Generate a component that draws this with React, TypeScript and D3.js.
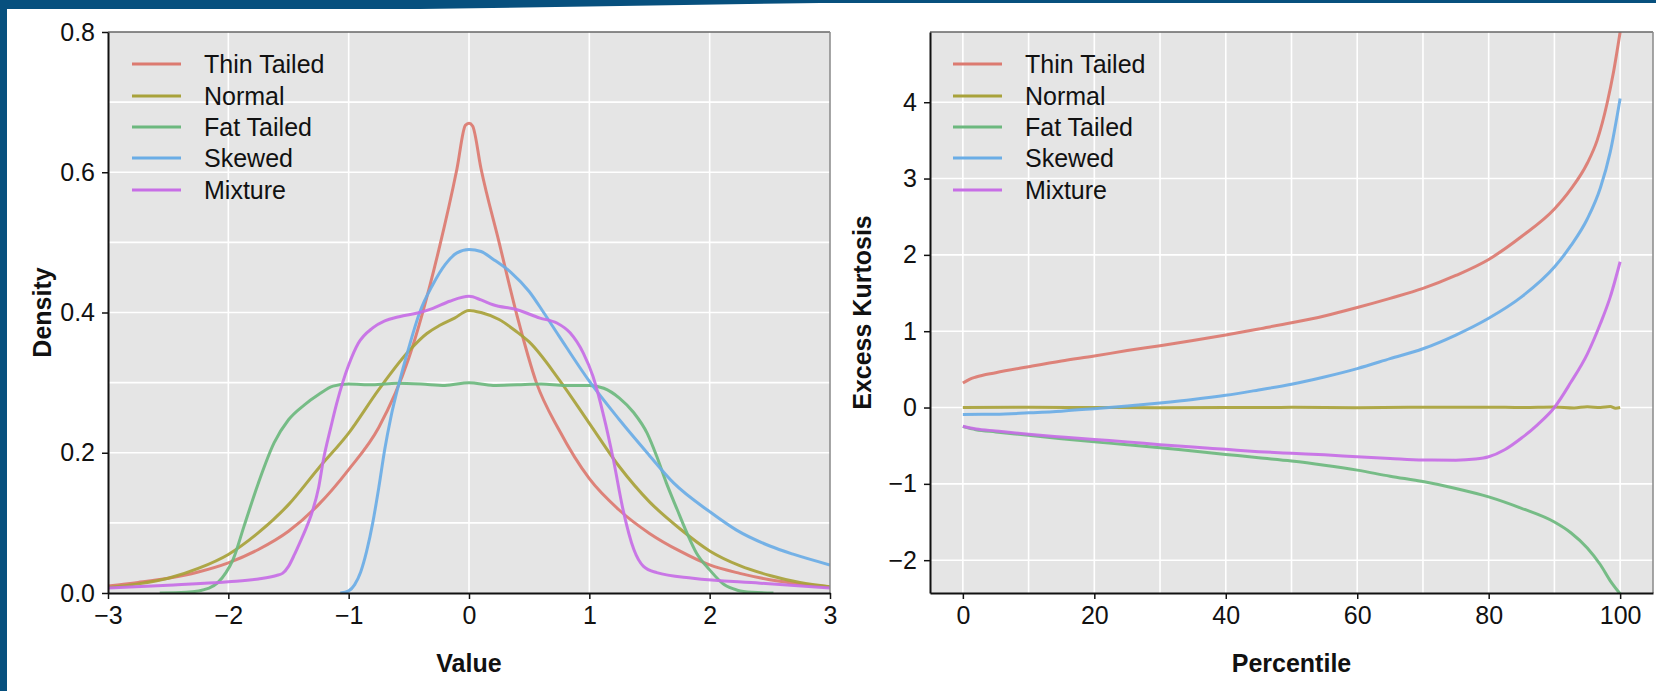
import React, { useRef, useEffect } from "react";
import * as d3 from "d3";

const seriesNames = ["Thin Tailed", "Normal", "Fat Tailed", "Skewed", "Mixture"];
const seriesColors = ["#dc7a70", "#a8a23a", "#6cb87e", "#6aade6", "#c76ee6"];

// left panel: density curves, [value, density]
const densityThin = [
  [-3, 0.01], [-2.75, 0.015], [-2.5, 0.021], [-2.25, 0.03], [-2, 0.043], [-1.75, 0.062],
  [-1.5, 0.088], [-1.25, 0.126], [-1, 0.176], [-0.75, 0.236], [-0.5, 0.335], [-0.25, 0.49],
  [-0.1, 0.605], [-0.03, 0.667], [0, 0.67], [0.03, 0.666], [0.1, 0.605], [0.25, 0.5],
  [0.4, 0.395], [0.56, 0.3], [0.75, 0.232], [1, 0.163], [1.25, 0.118], [1.5, 0.085],
  [1.75, 0.06], [2, 0.04], [2.25, 0.028], [2.5, 0.019], [2.75, 0.013], [3, 0.009],
];
const densityNormal = [
  [-3, 0.008], [-2.75, 0.013], [-2.5, 0.021], [-2.25, 0.035], [-2, 0.055], [-1.75, 0.086],
  [-1.5, 0.126], [-1.25, 0.178], [-1, 0.228], [-0.75, 0.29], [-0.5, 0.345], [-0.35, 0.37],
  [-0.25, 0.381], [-0.12, 0.392], [0, 0.403], [0.1, 0.4], [0.25, 0.39], [0.4, 0.372],
  [0.5, 0.358], [0.75, 0.304], [1, 0.242], [1.25, 0.18], [1.5, 0.13], [1.75, 0.092],
  [2, 0.06], [2.25, 0.039], [2.5, 0.025], [2.75, 0.015], [3, 0.009],
];
const densityFat = [
  [-2.57, 0], [-2.35, 0.001], [-2.16, 0.007], [-2.02, 0.029], [-1.96, 0.048], [-1.87, 0.095],
  [-1.75, 0.157], [-1.62, 0.214], [-1.5, 0.247], [-1.37, 0.268], [-1.25, 0.283], [-1.13, 0.295],
  [-1, 0.298], [-0.8, 0.297], [-0.6, 0.299], [-0.4, 0.298], [-0.2, 0.296], [0, 0.3],
  [0.2, 0.296], [0.4, 0.297], [0.6, 0.298], [0.8, 0.296], [1, 0.296], [1.12, 0.292],
  [1.25, 0.278], [1.37, 0.257], [1.48, 0.228], [1.56, 0.195], [1.64, 0.157], [1.73, 0.119],
  [1.81, 0.086], [1.89, 0.057], [2, 0.033], [2.12, 0.012], [2.23, 0.004], [2.35, 0.001], [2.53, 0],
];
const densitySkewed = [
  [-1.07, 0], [-1, 0.003], [-0.95, 0.012], [-0.9, 0.03], [-0.85, 0.06], [-0.8, 0.1],
  [-0.75, 0.15], [-0.7, 0.205], [-0.65, 0.25], [-0.58, 0.3], [-0.5, 0.35], [-0.41, 0.4],
  [-0.3, 0.44], [-0.2, 0.468], [-0.1, 0.485], [0, 0.49], [0.1, 0.487], [0.2, 0.476],
  [0.35, 0.457], [0.5, 0.43], [0.62, 0.4], [0.75, 0.366], [1, 0.302], [1.25, 0.247],
  [1.48, 0.2], [1.7, 0.157], [2, 0.116], [2.22, 0.09], [2.5, 0.067], [2.7, 0.055], [3, 0.04],
];
const densityMixture = [
  [-3, 0.007], [-2.5, 0.011], [-2, 0.016], [-1.75, 0.02], [-1.6, 0.025], [-1.55, 0.028],
  [-1.5, 0.038], [-1.45, 0.055], [-1.4, 0.074], [-1.35, 0.094], [-1.31, 0.112], [-1.25, 0.15],
  [-1.21, 0.19], [-1.15, 0.235], [-1.1, 0.27], [-1.05, 0.3], [-1, 0.325], [-0.92, 0.356],
  [-0.8, 0.378], [-0.7, 0.388], [-0.58, 0.394], [-0.41, 0.4], [-0.3, 0.406], [-0.16, 0.416],
  [0, 0.423], [0.1, 0.418], [0.2, 0.411], [0.4, 0.404], [0.59, 0.392], [0.73, 0.385],
  [0.84, 0.371], [0.95, 0.342], [1.03, 0.309], [1.12, 0.252], [1.2, 0.19], [1.28, 0.119],
  [1.37, 0.062], [1.45, 0.038], [1.56, 0.029], [1.86, 0.021], [2.42, 0.014], [3, 0.007],
];

// right panel: excess kurtosis by percentile, [percentile, kurtosis]
const kurtThin = [
  [0, 0.32], [1, 0.37], [2, 0.4], [5, 0.456], [10, 0.535], [15, 0.61], [20, 0.675],
  [25, 0.746], [30, 0.81], [35, 0.877], [40, 0.95], [45, 1.03], [50, 1.11], [55, 1.2],
  [60, 1.31], [65, 1.43], [70, 1.56], [75, 1.73], [80, 1.94], [85, 2.24], [90, 2.6],
  [92.5, 2.86], [95, 3.2], [96.5, 3.5], [98, 3.98], [99, 4.4], [100, 4.92],
];
const kurtNormal = [
  [0, 0], [10, 0.003], [20, 0], [30, -0.003], [40, 0], [50, 0.002], [60, -0.002],
  [70, 0.003], [80, 0.005], [85, 0], [90, 0.008], [93, -0.005], [95, 0.01], [97, 0],
  [98.5, 0.012], [99.3, -0.01], [100, 0],
];
const kurtFat = [
  [0, -0.25], [2, -0.29], [5, -0.32], [10, -0.364], [15, -0.41], [20, -0.45], [25, -0.487],
  [30, -0.526], [35, -0.57], [40, -0.614], [45, -0.658], [50, -0.7], [55, -0.755],
  [60, -0.82], [65, -0.9], [70, -0.97], [75, -1.06], [80, -1.17], [85, -1.32], [90, -1.5],
  [92.5, -1.64], [95, -1.84], [97, -2.06], [98.5, -2.27], [100, -2.44],
];
const kurtSkewed = [
  [0, -0.09], [5, -0.088], [10, -0.07], [15, -0.048], [20, -0.015], [25, 0.02], [30, 0.06],
  [35, 0.105], [40, 0.16], [45, 0.23], [50, 0.305], [55, 0.4], [60, 0.51], [65, 0.64],
  [70, 0.77], [75, 0.95], [80, 1.17], [85, 1.45], [90, 1.84], [92.5, 2.12], [95, 2.47],
  [97, 2.88], [98.5, 3.35], [100, 4.05],
];
const kurtMixture = [
  [0, -0.245], [2, -0.28], [5, -0.307], [10, -0.35], [15, -0.386], [20, -0.42], [25, -0.45],
  [30, -0.487], [35, -0.518], [40, -0.548], [45, -0.578], [50, -0.6], [55, -0.62],
  [60, -0.645], [65, -0.668], [70, -0.688], [75, -0.69], [78, -0.675], [80, -0.645],
  [82.5, -0.55], [85, -0.4], [87.5, -0.22], [90, 0], [92.5, 0.33], [95, 0.7], [97, 1.1],
  [98.5, 1.45], [100, 1.91],
];

const valueTicks = [-3, -2, -1, 0, 1, 2, 3];
const densityTicks = [0, 0.2, 0.4, 0.6, 0.8];
const percentileTicks = [0, 20, 40, 60, 80, 100];
const kurtTicks = [-2, -1, 0, 1, 2, 3, 4];

const FONT = "'Liberation Sans', Arial, Helvetica, sans-serif";

const drawPanel = (svg, cfg) => {
  const { x, y, series, xTicks, yTicks, xGrid, yGrid, yFormat, xLabel, yLabel, yLabelX, legendX, id } = cfg;
  const [x0, x1] = x.range();
  const [y1, y0] = y.range();
  const g = svg.append("g");

  g.append("rect")
    .attr("x", x0).attr("y", y0)
    .attr("width", x1 - x0).attr("height", y1 - y0)
    .attr("fill", "#e5e5e5");

  // grid
  g.append("g").selectAll("line").data(xGrid).join("line")
    .attr("x1", (d) => x(d)).attr("x2", (d) => x(d))
    .attr("y1", y0).attr("y2", y1)
    .attr("stroke", "#fff").attr("stroke-width", 1.6);
  g.append("g").selectAll("line").data(yGrid).join("line")
    .attr("x1", x0).attr("x2", x1)
    .attr("y1", (d) => y(d)).attr("y2", (d) => y(d))
    .attr("stroke", "#fff").attr("stroke-width", 1.6);

  g.append("clipPath").attr("id", id)
    .append("rect").attr("x", x0).attr("y", y0)
    .attr("width", x1 - x0).attr("height", y1 - y0);

  const line = d3.line().x((d) => x(d[0])).y((d) => y(d[1])).curve(d3.curveMonotoneX);
  g.append("g").attr("clip-path", `url(#${id})`)
    .selectAll("path").data(series).join("path")
    .attr("d", (d) => line(d))
    .attr("fill", "none")
    .attr("stroke", (d, i) => seriesColors[i])
    .attr("stroke-width", 3)
    .attr("stroke-linejoin", "round")
    .attr("opacity", 0.92);

  // top / right frame
  g.append("line").attr("x1", x0).attr("x2", x1).attr("y1", y0).attr("y2", y0)
    .attr("stroke", "#666").attr("stroke-width", 1.5);
  g.append("line").attr("x1", x1).attr("x2", x1).attr("y1", y0).attr("y2", y1)
    .attr("stroke", "#888").attr("stroke-width", 1.5);

  const xAxis = g.append("g").attr("transform", `translate(0,${y1})`)
    .call(d3.axisBottom(x).tickValues(xTicks).tickSize(6).tickSizeOuter(0).tickPadding(7).tickFormat(d3.format("")));
  const yAxis = g.append("g").attr("transform", `translate(${x0},0)`)
    .call(d3.axisLeft(y).tickValues(yTicks).tickSize(6).tickSizeOuter(0).tickPadding(7).tickFormat(yFormat));
  [xAxis, yAxis].forEach((a) => {
    a.select(".domain").attr("stroke", "#111").attr("stroke-width", 2);
    a.selectAll(".tick line").attr("stroke", "#111").attr("stroke-width", 1.5);
    a.selectAll("text").attr("font-size", 25).attr("font-family", FONT).attr("fill", "#111");
  });

  g.append("text")
    .attr("x", (x0 + x1) / 2).attr("y", 672)
    .attr("text-anchor", "middle")
    .attr("font-family", FONT).attr("font-size", 25).attr("font-weight", "bold")
    .attr("fill", "#111")
    .text(xLabel);
  g.append("text")
    .attr("transform", `translate(${yLabelX},${(y0 + y1) / 2}) rotate(-90)`)
    .attr("text-anchor", "middle")
    .attr("font-family", FONT).attr("font-size", 25).attr("font-weight", "bold")
    .attr("fill", "#111")
    .text(yLabel);

  // legend
  const legendRows = [64, 96, 127, 158, 190];
  const lg = g.append("g").selectAll("g").data(seriesNames).join("g")
    .attr("transform", (d, i) => `translate(${legendX},${legendRows[i]})`);
  lg.append("line").attr("x1", 0).attr("x2", 49).attr("y1", 0).attr("y2", 0)
    .attr("stroke", (d, i) => seriesColors[i]).attr("stroke-width", 3);
  lg.append("text").attr("x", 72).attr("dy", "0.35em")
    .attr("font-family", FONT).attr("font-size", 25).attr("fill", "#111")
    .text((d) => d);
};

const App = () => {
  const svgRef = useRef();

  useEffect(() => {
    const svg = d3.select(svgRef.current);
    svg.selectAll("*").remove();

    svg.append("rect").attr("width", 1656).attr("height", 691).attr("fill", "#fff");

    const xValue = d3.scaleLinear().domain([-3, 3]).range([108, 830]);
    const yDensity = d3.scaleLinear().domain([0, 0.8]).range([593, 32]);
    drawPanel(svg, {
      id: "clipLeft",
      x: xValue,
      y: yDensity,
      series: [densityThin, densityNormal, densityFat, densitySkewed, densityMixture],
      xTicks: valueTicks,
      yTicks: densityTicks,
      xGrid: [-2, -1, 0, 1, 2],
      yGrid: d3.range(1, 8).map((d) => d / 10),
      yFormat: d3.format(".1f"),
      xLabel: "Value",
      yLabel: "Density",
      yLabelX: 51,
      legendX: 132,
    });

    const xPct = d3.scaleLinear().domain([-5, 105]).range([930, 1653]);
    const yKurt = d3.scaleLinear().domain([-2.43, 4.92]).range([593, 32]);
    drawPanel(svg, {
      id: "clipRight",
      x: xPct,
      y: yKurt,
      series: [kurtThin, kurtNormal, kurtFat, kurtSkewed, kurtMixture],
      xTicks: percentileTicks,
      yTicks: kurtTicks,
      xGrid: d3.range(0, 101, 10),
      yGrid: kurtTicks,
      yFormat: d3.format("d"),
      xLabel: "Percentile",
      yLabel: "Excess Kurtosis",
      yLabelX: 871,
      legendX: 953,
    });

    // dark frame of the screenshot
    svg.append("rect").attr("x", 0).attr("y", 0).attr("width", 7).attr("height", 691).attr("fill", "#07507e");
    svg.append("polygon")
      .attr("points", "0,0 1656,0 1656,3 820,3 420,9 0,9")
      .attr("fill", "#07507e");
  }, []);

  return (
    <svg
      ref={svgRef}
      width={1656}
      height={691}
      style={{ position: "absolute", left: 0, top: 0, display: "block" }}
    ></svg>
  );
};

export default App;
